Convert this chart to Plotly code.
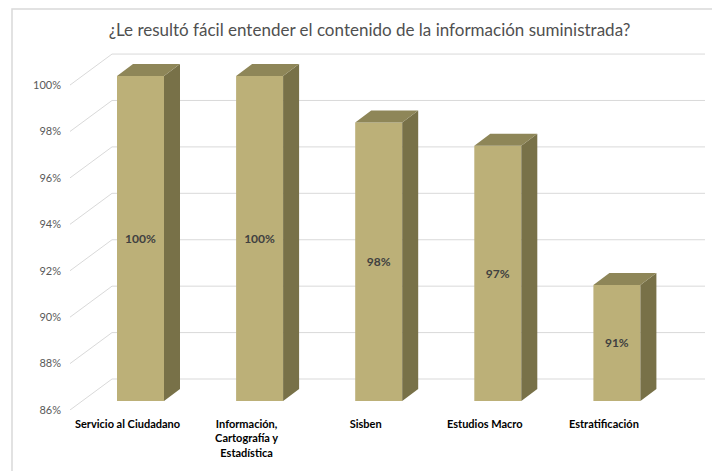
import plotly.graph_objects as go

# data
categories = ["Servicio al Ciudadano", "Información,<br>Cartografía y<br>Estadística",
              "Sisben", "Estudios Macro", "Estratificación"]
values = [100, 100, 98, 97, 91]
tick_vals = [86, 88, 90, 92, 94, 96, 98, 100]
tick_text = ["86%", "88%", "90%", "92%", "94%", "96%", "98%", "100%"]
title = "¿Le resultó fácil entender el contenido de la información suministrada?"

# the page body adds an 8px margin, so the figure is drawn 8px smaller
OFF = 8
W, H = 720 - OFF, 471 - OFF
ml, mr, mt, mb = 70 - OFF, 15, 50 - OFF, 61
px_per_cat = 119.1
px_per_pct = 23.21

# axis ranges of the front (label) plane
x_lo = (70 - 127.5) / px_per_cat
x_hi = (705 - 127.5) / px_per_cat
y_lo = 86
y_hi = y_lo + (H - mt - mb) / px_per_pct

# 3d offsets in data units
bar_dx, bar_dy = 13 / px_per_cat, 9 / px_per_pct      # label plane -> bar front
dep_dx, dep_dy = 16 / px_per_cat, 12 / px_per_pct     # bar depth
wall_dx, wall_dy = 42 / px_per_cat, 31 / px_per_pct   # label plane -> back wall
bar_w = 47 / px_per_cat

front_col = "#BCB078"
side_col = "#787148"
top_col = "#8E8658"
grid_col = "#D9D9D9"
font_family = "Lato, 'Open Sans', sans-serif"

fig = go.Figure()

# back wall gridlines with their diagonals
gx, gy = [], []
for v in tick_vals:
    gx += [x_lo, x_lo + wall_dx, x_hi, None]
    gy += [v, v + wall_dy, v + wall_dy, None]
fig.add_trace(go.Scatter(x=gx, y=gy, mode="lines", line=dict(color=grid_col, width=1),
                         hoverinfo="skip", showlegend=False))

# bar front faces
fig.add_trace(go.Bar(
    x=list(range(len(values))), y=[v - y_lo for v in values], base=y_lo,
    width=bar_w, marker=dict(color=front_col, line=dict(width=0)),
    text=[f"<b>{v}%</b>" for v in values], textposition="inside", insidetextanchor="middle",
    textangle=0,
    textfont=dict(family=font_family, size=12, color="#404040"),
    xaxis="x2", yaxis="y2", showlegend=False,
))

# side and top faces
sx, sy, tx, ty = [], [], [], []
for i, v in enumerate(values):
    xl, xr = i - bar_w / 2, i + bar_w / 2
    sx += [xr, xr, xr + dep_dx, xr + dep_dx, xr, None]
    sy += [y_lo, v, v + dep_dy, y_lo + dep_dy, y_lo, None]
    tx += [xl, xr, xr + dep_dx, xl + dep_dx, xl, None]
    ty += [v, v, v + dep_dy, v + dep_dy, v, None]
fig.add_trace(go.Scatter(x=sx, y=sy, mode="lines", fill="toself", fillcolor=side_col,
                         line=dict(width=0, color=side_col), xaxis="x2", yaxis="y2",
                         hoverinfo="skip", showlegend=False))
fig.add_trace(go.Scatter(x=tx, y=ty, mode="lines", fill="toself", fillcolor=top_col,
                         line=dict(width=0, color=top_col), xaxis="x2", yaxis="y2",
                         hoverinfo="skip", showlegend=False))

# chart border (positions given in reference pixels)
def px_x(p):
    return (p - OFF - ml) / (W - ml - mr)

def px_y(p):
    return (H - mb - (p - OFF)) / (H - mt - mb)

fig.add_shape(type="rect", xref="paper", yref="paper",
              x0=px_x(12), x1=px_x(740), y0=px_y(490), y1=px_y(OFF + 1),
              line=dict(color=grid_col, width=1.5), layer="below")

fig.update_layout(
    width=W, height=H,
    margin=dict(l=ml, r=mr, t=mt, b=mb),
    paper_bgcolor="white", plot_bgcolor="white",
    font=dict(family=font_family),
    title=dict(text=title, x=(369.5 - OFF) / W, xanchor="center",
               y=1 - (30 - OFF) / H, yanchor="middle",
               font=dict(size=17, color="#505050", family=font_family)),
    xaxis=dict(range=[x_lo, x_hi], tickmode="array", tickvals=list(range(len(categories))),
               ticktext=[f"<b>{c}</b>" for c in categories],
               tickfont=dict(size=11, color="#000000", family=font_family),
               ticklabelstandoff=6,
               showgrid=False, zeroline=False, showline=False, ticks=""),
    yaxis=dict(range=[y_lo, y_hi], tickmode="array", tickvals=tick_vals, ticktext=tick_text,
               tickfont=dict(size=11, color="#595959", family=font_family),
               ticklabelstandoff=8,
               showgrid=False, zeroline=False, showline=False, ticks=""),
    xaxis2=dict(range=[x_lo - bar_dx, x_hi - bar_dx], overlaying="x", visible=False),
    yaxis2=dict(range=[y_lo - bar_dy, y_hi - bar_dy], overlaying="y", visible=False),
)

fig.write_html("out.html")
